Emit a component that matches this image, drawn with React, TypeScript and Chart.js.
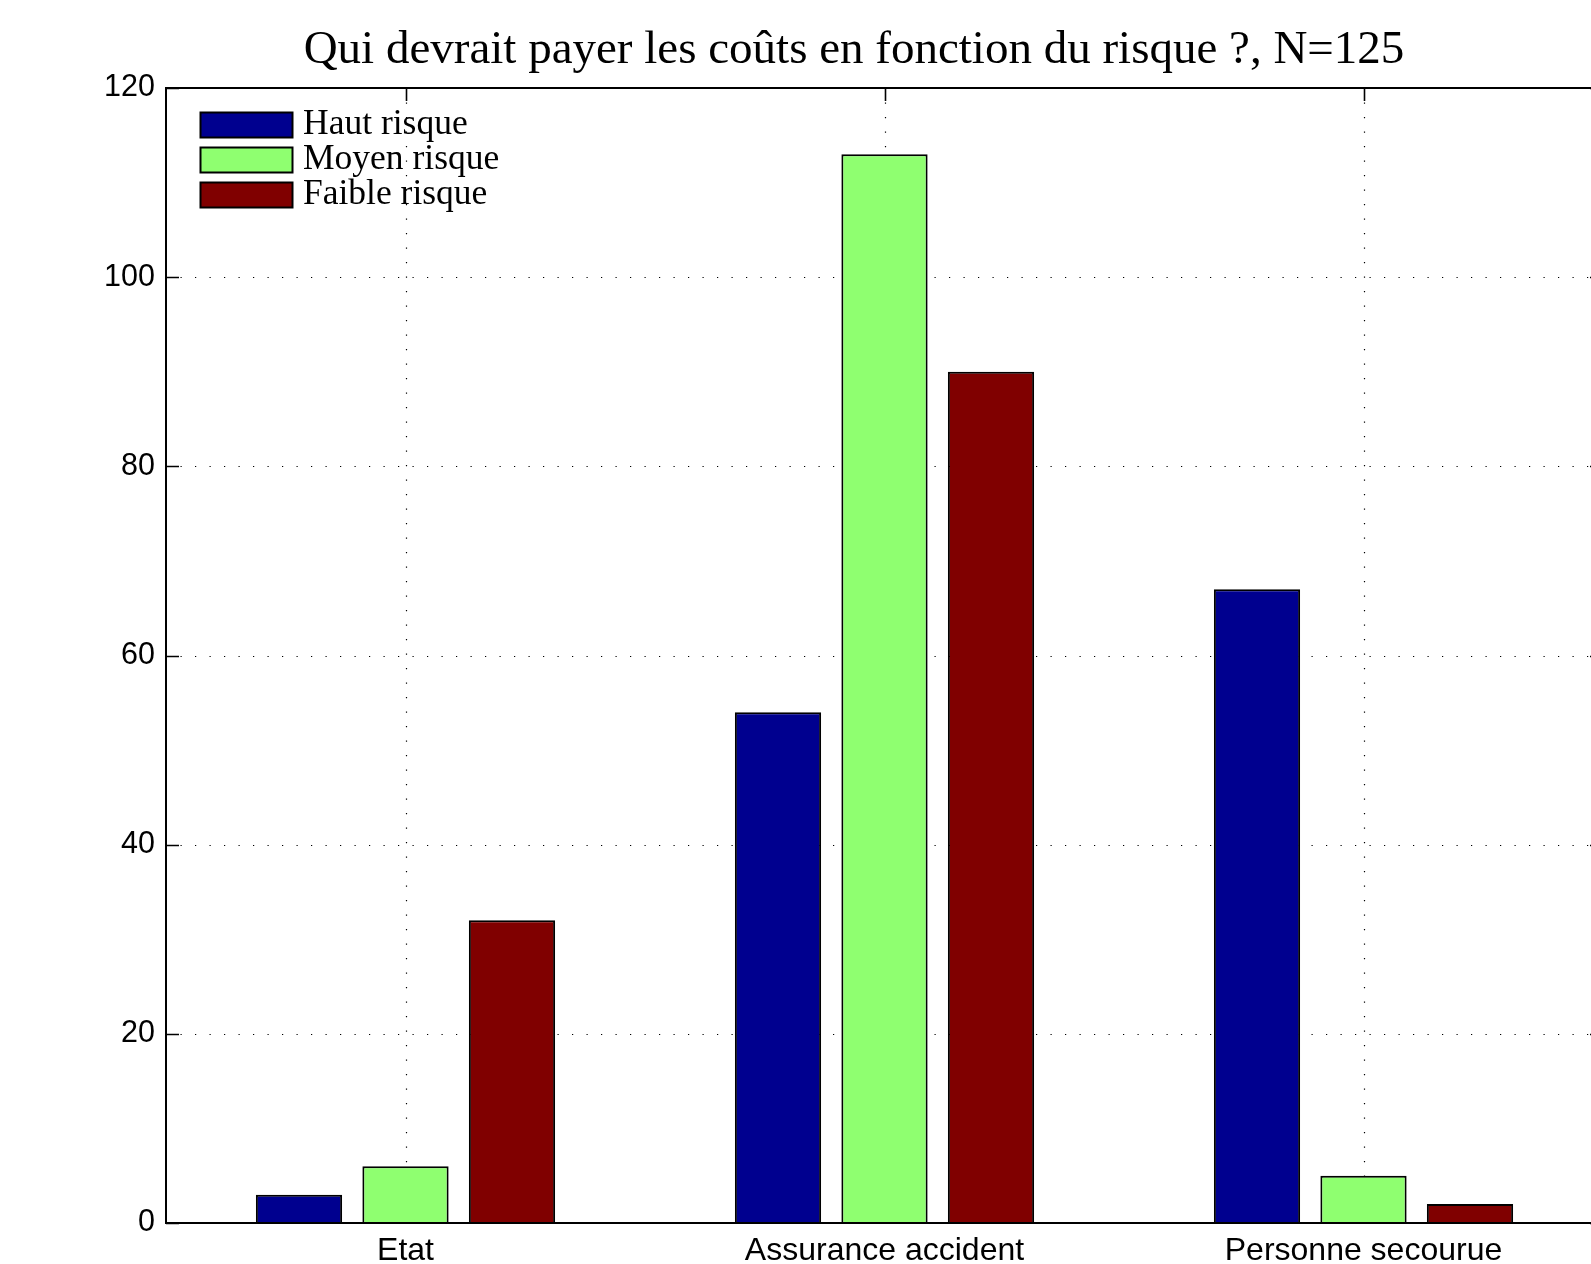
import React, { useEffect, useRef } from "react";
import { Chart, registerables } from "chart.js";

Chart.register(...registerables);

const TITLE = "Qui devrait payer les coûts en fonction du risque ?, N=125";
const categories = ["Etat", "Assurance accident", "Personne secourue"];
const seriesNames = ["Haut risque", "Moyen risque", "Faible risque"];
const hautRisque = [3, 54, 67];
const moyenRisque = [6, 113, 5];
const faibleRisque = [32, 90, 2];
const seriesColors = ["#00008F", "#8FFF70", "#800000"];
const yMin = 0;
const yMax = 120;
const yStep = 20;

const CANVAS_W = 1620;
const CANVAS_H = 1264;
const AREA_LEFT = 166;
const AREA_TOP = 88;
const AREA_RIGHT = 1603;
const AREA_BOTTOM = 1223;

const matlabPlugin = {
  id: "matlabAxes",
  beforeDatasetsDraw(chart: any) {
    const { ctx, chartArea: a, scales } = chart;
    const xs = scales.x;
    const ys = scales.y;
    ctx.save();
    ctx.strokeStyle = "#000";
    ctx.lineWidth = 1.2;
    ctx.setLineDash([1.2, 13.3]);
    ys.ticks.forEach((t: any) => {
      if (t.value === yMin || t.value === yMax) return;
      const py = Math.round(ys.getPixelForValue(t.value)) + 0.5;
      ctx.beginPath();
      ctx.moveTo(a.left, py);
      ctx.lineTo(a.right, py);
      ctx.stroke();
    });
    categories.forEach((_, i) => {
      const px = Math.round(xs.getPixelForValue(i)) + 0.5;
      ctx.beginPath();
      ctx.moveTo(px, a.top);
      ctx.lineTo(px, a.bottom);
      ctx.stroke();
    });
    ctx.setLineDash([]);
    ctx.lineWidth = 1.6;
    const tl = 13;
    ys.ticks.forEach((t: any) => {
      const py = Math.round(ys.getPixelForValue(t.value)) + 0.5;
      ctx.beginPath();
      ctx.moveTo(a.left, py);
      ctx.lineTo(a.left + tl, py);
      ctx.moveTo(a.right, py);
      ctx.lineTo(a.right - tl, py);
      ctx.stroke();
    });
    categories.forEach((_, i) => {
      const px = Math.round(xs.getPixelForValue(i)) + 0.5;
      ctx.beginPath();
      ctx.moveTo(px, a.top);
      ctx.lineTo(px, a.top + tl);
      ctx.moveTo(px, a.bottom);
      ctx.lineTo(px, a.bottom - tl);
      ctx.stroke();
    });
    ctx.restore();
  },
  afterDatasetsDraw(chart: any) {
    const { ctx, chartArea: a } = chart;
    ctx.save();
    // axes box
    ctx.strokeStyle = "#000";
    ctx.lineWidth = 2;
    ctx.setLineDash([]);
    ctx.strokeRect(a.left, a.top, a.right - a.left, a.bottom - a.top);

    // legend
    const boxX = 200;
    const boxW = 93;
    const boxH = 26;
    const rowTop0 = 112;
    const rowGap = 35;
    ctx.font = "35.5px 'Liberation Serif'";
    ctx.textAlign = "left";
    ctx.textBaseline = "alphabetic";
    chart.data.datasets.forEach((ds: any, i: number) => {
      const top = rowTop0 + i * rowGap;
      ctx.fillStyle = ds.backgroundColor;
      ctx.fillRect(boxX, top, boxW, boxH);
      ctx.lineWidth = 2;
      ctx.strokeStyle = "#000";
      ctx.strokeRect(boxX + 0.5, top + 0.5, boxW - 1, boxH - 1);
      ctx.fillStyle = "#000";
      ctx.fillText(ds.label, 303, top + 21.5);
    });

    // title
    ctx.font = "47px 'Liberation Serif'";
    ctx.textAlign = "center";
    ctx.fillStyle = "#000";
    ctx.fillText(TITLE, 854, 63);
    ctx.restore();
  },
};

export default function App() {
  const ref = useRef<HTMLCanvasElement | null>(null);

  useEffect(() => {
    if (!ref.current) return;
    const seriesData = [hautRisque, moyenRisque, faibleRisque];
    const chart = new Chart(ref.current, {
      type: "bar",
      data: {
        labels: categories,
        datasets: seriesNames.map((name, i) => ({
          label: name,
          data: seriesData[i],
          backgroundColor: seriesColors[i],
          borderColor: "#000",
          borderWidth: 2,
          borderSkipped: "start",
          categoryPercentage: 0.667,
          barPercentage: 0.81,
        })),
      },
      options: {
        responsive: false,
        maintainAspectRatio: false,
        devicePixelRatio: 1,
        animation: false,
        layout: {
          padding: {
            top: AREA_TOP,
            left: 0,
            right: CANVAS_W - AREA_RIGHT,
            bottom: 0,
          },
        },
        plugins: {
          legend: { display: false },
          title: { display: false },
          tooltip: { enabled: false },
        },
        scales: {
          x: {
            type: "category",
            offset: true,
            grid: { display: false, drawTicks: false },
            border: { display: false },
            ticks: {
              color: "#000",
              font: { family: "'Liberation Sans'", size: 32 },
              padding: 9,
              maxRotation: 0,
              autoSkip: false,
            },
            afterFit: (s: any) => {
              s.height = CANVAS_H - AREA_BOTTOM;
            },
          },
          y: {
            min: yMin,
            max: yMax,
            grid: { display: false, drawTicks: false },
            border: { display: false },
            ticks: {
              stepSize: yStep,
              color: "#000",
              font: { family: "'Liberation Sans'", size: 30.5 },
              padding: 11,
            },
            afterFit: (s: any) => {
              s.width = AREA_LEFT;
            },
          },
        },
      },
      plugins: [matlabPlugin],
    });
    return () => chart.destroy();
  }, []);

  return (
    <div
      style={{
        position: "fixed",
        left: 0,
        top: 0,
        width: 1591,
        height: 1264,
        overflow: "hidden",
        background: "#fff",
      }}
    >
      <canvas
        ref={ref}
        width={CANVAS_W}
        height={CANVAS_H}
        style={{ display: "block", width: CANVAS_W, height: CANVAS_H }}
      />
    </div>
  );
}
